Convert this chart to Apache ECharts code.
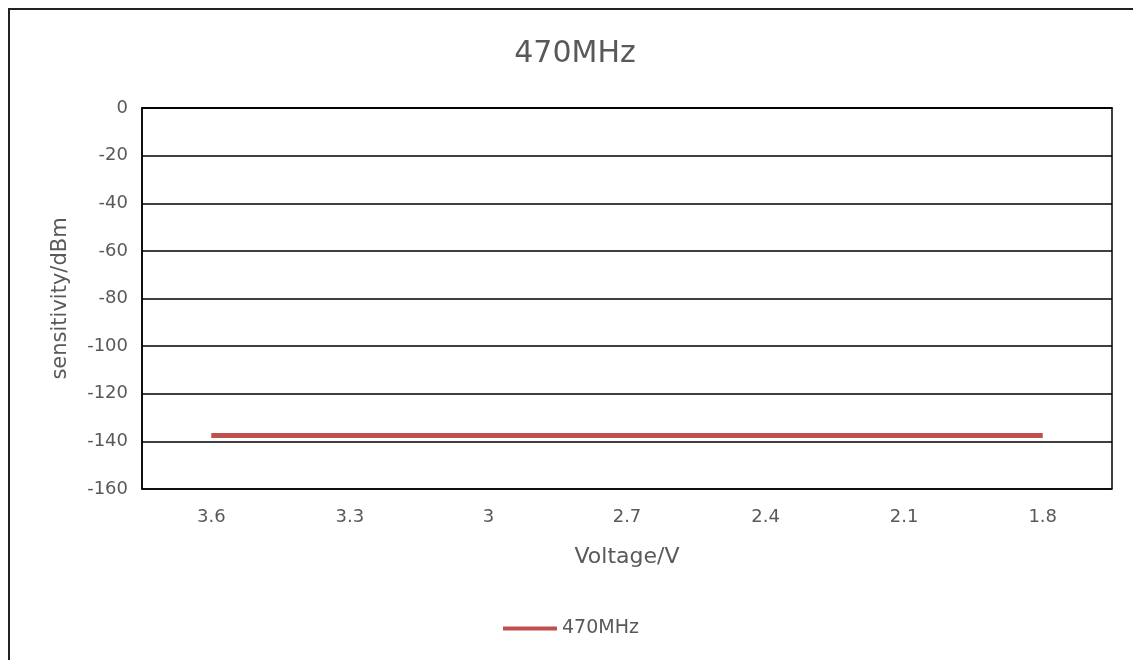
<!DOCTYPE html>
<html><head><meta charset="utf-8">
<script src="https://cdn.jsdelivr.net/npm/echarts@6/dist/echarts.min.js"></script>
<style>html,body{margin:0;padding:0;background:#fff}#c{width:1133px;height:660px}</style>
</head><body><div id="c"></div>
<script>
const categories = ['3.6','3.3','3','2.7','2.4','2.1','1.8'];
const seriesName = '470MHz';
const values = [-137.5,-137.5,-137.5,-137.5,-137.5,-137.5,-137.5];
const chart = echarts.init(document.getElementById('c'), null, {renderer:'canvas'});
const txt = '#595959';
const font = '"DejaVu Sans", sans-serif';
chart.setOption({
  animation:false,
  backgroundColor:'#fff',
  graphic:[{type:'rect',shape:{x:9,y:9,width:1140,height:670},style:{fill:'none',stroke:'#222',lineWidth:2},silent:true}],
  title:{text:'470MHz',left:570,top:34,textAlign:'center',textStyle:{color:txt,fontSize:30,fontWeight:'normal',fontFamily:font}},
  legend:{data:[{name:seriesName,icon:'rect'}],left:498,top:614,itemWidth:54,itemHeight:4,itemGap:4,
    textStyle:{color:txt,fontSize:19,fontFamily:font}},
  grid:{left:142,right:21,top:108,bottom:171,show:true,borderColor:'#000',borderWidth:1.5},
  xAxis:{type:'category',data:categories,boundaryGap:true,
    axisLine:{lineStyle:{color:'#000',width:1.5}},axisTick:{show:false},
    axisLabel:{color:txt,fontSize:18,fontFamily:font,margin:19},
    name:'Voltage/V',nameLocation:'middle',nameGap:57,nameTextStyle:{color:txt,fontSize:22,fontFamily:font}},
  yAxis:{type:'value',min:-160,max:0,interval:20,
    axisLine:{show:true,lineStyle:{color:'#000',width:1.5}},axisTick:{show:false},
    splitLine:{lineStyle:{color:'#000',width:1.5}},
    axisLabel:{color:txt,fontSize:18,fontFamily:font,margin:14},
    name:'sensitivity/dBm',nameLocation:'middle',nameGap:71,nameRotate:90,nameTextStyle:{color:txt,fontSize:21,fontFamily:font}},
  series:[{name:seriesName,type:'line',data:values,showSymbol:false,symbol:'none',
    lineStyle:{color:'#c0504d',width:5},itemStyle:{color:'#c0504d'}}]
});
</script></body></html>
